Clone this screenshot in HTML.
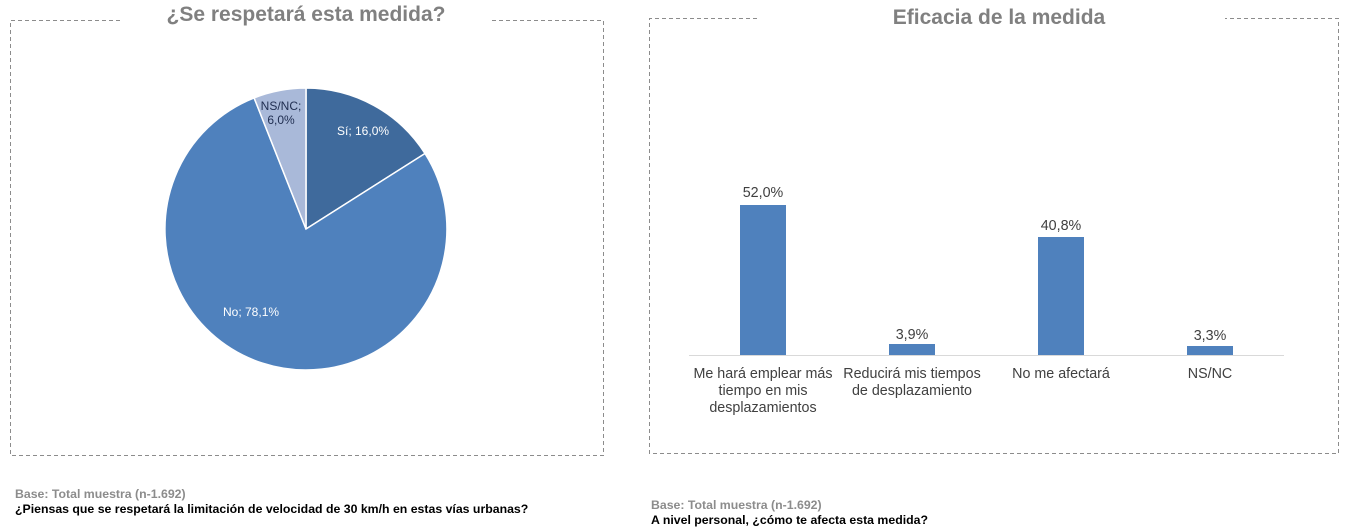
<!DOCTYPE html>
<html><head><meta charset="utf-8"><style>
body{margin:0;width:1351px;height:532px;background:#fff;font-family:"Liberation Sans",Arial,sans-serif;overflow:hidden;position:relative}
</style></head><body>
<svg width="1351" height="532" style="position:absolute;left:0;top:0" font-family="Liberation Sans, Arial, sans-serif">
<g fill="none" stroke="#8c8c8c" stroke-width="1" stroke-dasharray="4,3">
<path d="M120 20.5 H10.5 V455.5 H603.5 V20.5 H490"/>
<path d="M757 18.5 H649.5 V453.5 H1338.5 V18.5 H1225"/>
</g>
<text x="306" y="21" text-anchor="middle" font-size="21" font-weight="bold" fill="#808080">¿Se respetará esta medida?</text>
<text x="999" y="24" text-anchor="middle" font-size="21" font-weight="bold" fill="#808080">Eficacia de la medida</text>
<g stroke="#fff" stroke-width="1.5">
<path d="M306 229 L306 88 A141 141 0 0 1 425 153.5 Z" fill="#3f6a9c"/>
<path d="M306 229 L425 153.5 A141 141 0 1 1 254.1 97.9 Z" fill="#4f81bd"/>
<path d="M306 229 L254.1 97.9 A141 141 0 0 1 306 88 Z" fill="#a9b9d9"/>
</g>
<text x="337" y="135" font-size="12" fill="#fff">Sí; 16,0%</text>
<text x="223" y="316" font-size="12" fill="#fff">No; 78,1%</text>
<text x="281" y="110" text-anchor="middle" font-size="12" fill="#1f2d50">NS/NC;</text>
<text x="281" y="124" text-anchor="middle" font-size="12" fill="#1f2d50">6,0%</text>
<line x1="689" y1="355.5" x2="1284" y2="355.5" stroke="#d9d9d9"/>
<g fill="#4f81bd">
<rect x="740" y="205" width="46" height="150"/>
<rect x="889" y="344" width="46" height="11"/>
<rect x="1038" y="237" width="46" height="118"/>
<rect x="1187" y="346" width="46" height="9"/>
</g>
<g font-size="14.3" fill="#404040" text-anchor="middle">
<text x="763" y="197">52,0%</text>
<text x="912" y="339">3,9%</text>
<text x="1061" y="230">40,8%</text>
<text x="1210" y="340">3,3%</text>
<text x="763" y="378">Me hará emplear más</text>
<text x="763" y="395">tiempo en mis</text>
<text x="763" y="412">desplazamientos</text>
<text x="912" y="378">Reducirá mis tiempos</text>
<text x="912" y="395">de desplazamiento</text>
<text x="1061" y="378">No me afectará</text>
<text x="1210" y="378">NS/NC</text>
</g>
<g font-size="12.3" font-weight="bold">
<text x="15" y="498" fill="#8c8c8c">Base: Total muestra (n-1.692)</text>
<text x="15" y="513" fill="#000">¿Piensas que se respetará la limitación de velocidad de 30 km/h en estas vías urbanas?</text>
<text x="651" y="509" fill="#8c8c8c">Base: Total muestra (n-1.692)</text>
<text x="651" y="524" fill="#000">A nivel personal, ¿cómo te afecta esta medida?</text>
</g>
</svg>
</body></html>
